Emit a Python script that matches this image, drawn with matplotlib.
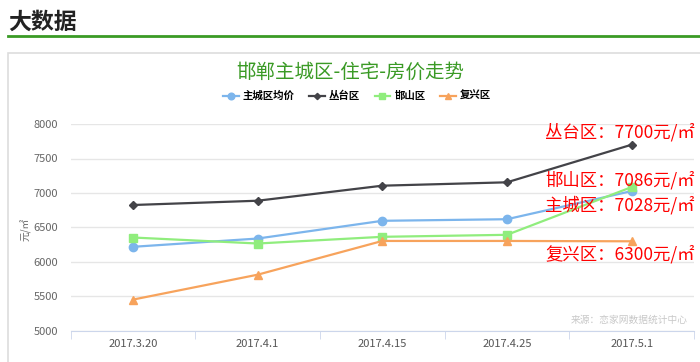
import matplotlib
matplotlib.use("Agg")
import matplotlib.pyplot as plt
from matplotlib.patches import Rectangle
from matplotlib.lines import Line2D

plt.rcParams['font.family'] = ['Noto Sans CJK SC', 'DejaVu Sans']

dates = ['2017.3.20', '2017.4.1', '2017.4.15', '2017.4.25', '2017.5.1']
zhucheng = [6220, 6340, 6597, 6620, 7028]
congtai = [6826, 6888, 7106, 7155, 7700]
hanshan = [6355, 6268, 6365, 6394, 7086]
fuxing = [5455, 5816, 6305, 6305, 6300]

names = ['主城区均价', '丛台区', '邯山区', '复兴区']
colors = ['#7cb5ec', '#434348', '#90ed7d', '#f7a35c']
markers = ['o', 'D', 's', '^']
msizes = [6, 4, 6, 6]
notes = ['主城区：7028元/㎡', '丛台区：7700元/㎡', '邯山区：7086元/㎡', '复兴区：6300元/㎡']

W, H = 700, 362
fig = plt.figure(figsize=(7, 3.62), dpi=100)

# page header
fig.text(8 / W, 1 - 22 / H, '大数据', fontsize=16.5, fontweight='bold',
         color='#222222', va='center', ha='left')
fig.add_artist(Line2D([8 / W, 1], [1 - 36 / H, 1 - 36 / H], color='#3a9a25', lw=2))
fig.add_artist(Rectangle((8 / W, -0.05), 1, 1 - 53 / H + 0.05, fill=False,
                         edgecolor='#dddddd', lw=1.2))

ax = fig.add_axes([70.6 / W, 1 - 331 / H, (694 - 70.6) / W, (331 - 124) / H])
x = list(range(len(dates)))
series = [zhucheng, congtai, hanshan, fuxing]
for vals, name, c, m, ms in zip(series, names, colors, markers, msizes):
    ax.plot(x, vals, color=c, marker=m, markersize=ms, lw=1.6, label=name)

ax.set_xlim(-0.5, len(dates) - 0.5)
ax.set_ylim(5000, 8000)
ax.set_yticks(range(5000, 8001, 500))
ax.set_xticks(x)
ax.set_xticklabels(dates)
ax.set_xticks([i - 0.5 for i in range(len(dates) + 1)], minor=True)
ax.tick_params(axis='x', which='major', length=0, labelsize=8, labelcolor='#555555', pad=6)
ax.tick_params(axis='x', which='minor', length=6, color='#ccd6eb')
ax.tick_params(axis='y', length=0, labelsize=8, labelcolor='#666666', pad=9)
ax.grid(axis='y', color='#e6e6e6', lw=1)
ax.set_axisbelow(True)
for s in ['top', 'right', 'left']:
    ax.spines[s].set_visible(False)
ax.spines['bottom'].set_color('#ccd6eb')
ax.set_ylabel('元/㎡', fontsize=7, color='#666666')
ax.yaxis.set_label_coords(-0.062, 0.49)

fig.text(0.5, 1 - 72 / H, '邯郸主城区-住宅-房价走势', fontsize=14,
         color='#3a9a25', ha='center', va='center')
fig.legend(loc='center', bbox_to_anchor=(0.51, 1 - 96 / H), ncol=4, frameon=False,
           handlelength=1.5, columnspacing=1.4, handletextpad=0.4,
           markerscale=0.8, prop={'weight': 'bold', 'size': 7.5})

# value notes at right
note_y = [205, 132, 180, 254]
for t, yy in zip(notes, note_y):
    fig.text(695 / W, 1 - yy / H, t, fontsize=12.5, color='#ff0000',
             ha='right', va='center')

fig.text(688 / W, 1 - 320 / H, '来源：恋家网数据统计中心', fontsize=7,
         color='#c8c8c8', ha='right', va='center')

fig.savefig('out.png', dpi=100)
